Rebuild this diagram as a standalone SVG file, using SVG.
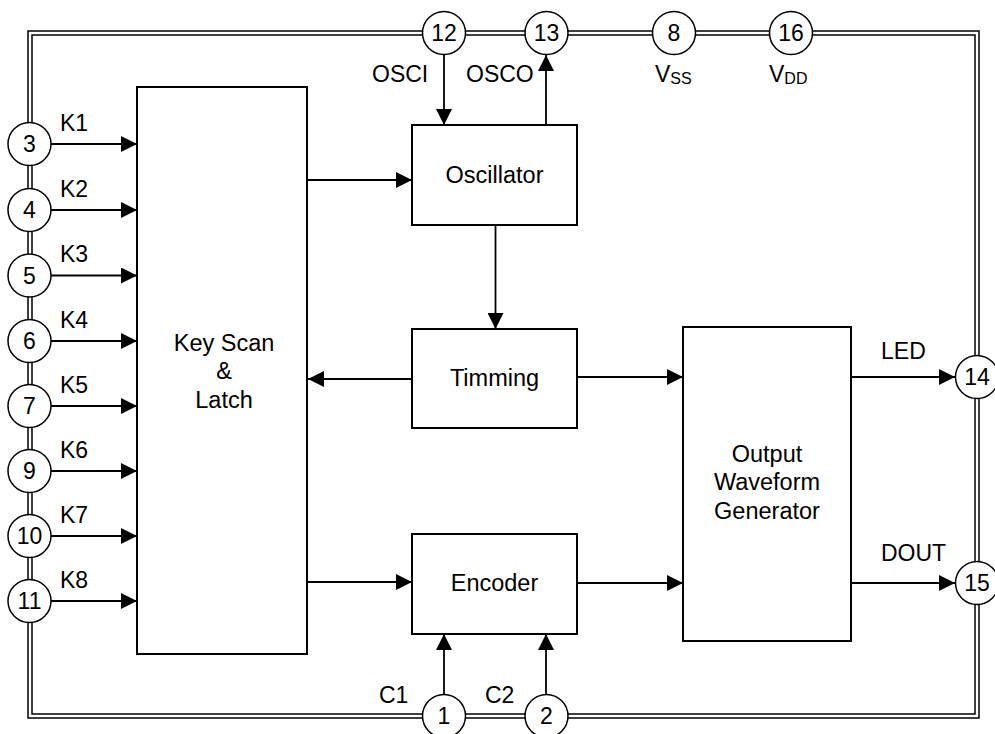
<svg xmlns="http://www.w3.org/2000/svg" width="995" height="734" viewBox="0 0 995 734">
<style>
.b{fill:#fff;stroke:#000;stroke-width:2}
.pin{fill:#fff;stroke:#000;stroke-width:1.5}
.w{fill:none;stroke:#000;stroke-width:1.8}
.bd{fill:none;stroke:#000;stroke-width:1.5}
text{font-family:"Liberation Sans",Arial,sans-serif;font-size:23px;fill:#000}
.c{text-anchor:middle}
.t{font-size:23.5px}
.s{font-size:16px}
</style>
<defs>
<marker id="a" markerUnits="userSpaceOnUse" markerWidth="17" markerHeight="16" refX="16" refY="8" orient="auto">
<path d="M0,0 L16,8 L0,16 z" fill="#000"/>
</marker>
</defs>
<g id="border">
<rect class="bd" x="28" y="31" width="951" height="687"/>
<rect class="bd" x="32" y="35" width="943" height="679"/>
</g>
<g id="connectors">
<path class="w" marker-end="url(#a)" d="M51,144H137"/>
<path class="w" marker-end="url(#a)" d="M51,210H137"/>
<path class="w" marker-end="url(#a)" d="M51,275.5H137"/>
<path class="w" marker-end="url(#a)" d="M51,341H137"/>
<path class="w" marker-end="url(#a)" d="M51,406H137"/>
<path class="w" marker-end="url(#a)" d="M51,471H137"/>
<path class="w" marker-end="url(#a)" d="M51,536H137"/>
<path class="w" marker-end="url(#a)" d="M51,601H137"/>
<path class="w" marker-end="url(#a)" d="M444,55V125"/>
<path class="w" marker-end="url(#a)" d="M546,125V55"/>
<path class="w" marker-end="url(#a)" d="M307,180H412"/>
<path class="w" marker-end="url(#a)" d="M495.5,225V329"/>
<path class="w" marker-end="url(#a)" d="M412,379H308"/>
<path class="w" marker-end="url(#a)" d="M577,377H683"/>
<path class="w" marker-end="url(#a)" d="M307,582H412"/>
<path class="w" marker-end="url(#a)" d="M577,583H683"/>
<path class="w" marker-end="url(#a)" d="M851,377H955"/>
<path class="w" marker-end="url(#a)" d="M851,583H955"/>
<path class="w" marker-end="url(#a)" d="M444,694V634"/>
<path class="w" marker-end="url(#a)" d="M546,694V634"/>
</g>
<g id="keyscan"><rect class="b" x="137" y="87" width="170" height="567"/>
<text class="c t" x="224" y="351">Key Scan</text><text class="c t" x="224" y="379">&amp;</text><text class="c t" x="224" y="408">Latch</text></g>
<g id="oscillator"><rect class="b" x="412" y="125" width="165" height="100"/><text class="c t" x="494.5" y="183">Oscillator</text></g>
<g id="timming"><rect class="b" x="412" y="329" width="165" height="99"/><text class="c t" x="494.5" y="386">Timming</text></g>
<g id="encoder"><rect class="b" x="412" y="534" width="165" height="100"/><text class="c t" x="494.5" y="591">Encoder</text></g>
<g id="owg"><rect class="b" x="683" y="327" width="168" height="314"/>
<text class="c t" x="767" y="462">Output</text><text class="c t" x="767" y="490">Waveform</text><text class="c t" x="767" y="519">Generator</text></g>
<g id="pin3"><circle class="pin" cx="29.5" cy="144" r="21.5"/><text class="c" x="29.5" y="152">3</text></g>
<g id="pin4"><circle class="pin" cx="29.5" cy="210" r="21.5"/><text class="c" x="29.5" y="218">4</text></g>
<g id="pin5"><circle class="pin" cx="29.5" cy="275.5" r="21.5"/><text class="c" x="29.5" y="283.5">5</text></g>
<g id="pin6"><circle class="pin" cx="29.5" cy="341" r="21.5"/><text class="c" x="29.5" y="349">6</text></g>
<g id="pin7"><circle class="pin" cx="29.5" cy="406" r="21.5"/><text class="c" x="29.5" y="414">7</text></g>
<g id="pin9"><circle class="pin" cx="29.5" cy="471" r="21.5"/><text class="c" x="29.5" y="479">9</text></g>
<g id="pin10"><circle class="pin" cx="29.5" cy="536" r="21.5"/><text class="c" x="29.5" y="544">10</text></g>
<g id="pin11"><circle class="pin" cx="29.5" cy="601" r="21.5"/><text class="c" x="29.5" y="609">11</text></g>
<g id="pin12"><circle class="pin" cx="444" cy="33" r="21.5"/><text class="c" x="444" y="41">12</text></g>
<g id="pin13"><circle class="pin" cx="546.5" cy="33" r="21.5"/><text class="c" x="546.5" y="41">13</text></g>
<g id="pin8"><circle class="pin" cx="674" cy="33" r="21.5"/><text class="c" x="674" y="41">8</text></g>
<g id="pin16"><circle class="pin" cx="791" cy="33" r="21.5"/><text class="c" x="791" y="41">16</text></g>
<g id="pin14"><circle class="pin" cx="977" cy="377" r="21.5"/><text class="c" x="977" y="385">14</text></g>
<g id="pin15"><circle class="pin" cx="977" cy="583" r="21.5"/><text class="c" x="977" y="591">15</text></g>
<g id="pin1"><circle class="pin" cx="444" cy="716" r="21.5"/><text class="c" x="444" y="724">1</text></g>
<g id="pin2"><circle class="pin" cx="546.5" cy="716" r="21.5"/><text class="c" x="546.5" y="724">2</text></g>
<g id="labels">
<text x="60" y="131">K1</text>
<text x="60" y="197">K2</text>
<text x="60" y="262">K3</text>
<text x="60" y="328">K4</text>
<text x="60" y="393">K5</text>
<text x="60" y="458">K6</text>
<text x="60" y="523">K7</text>
<text x="60" y="588">K8</text>
<text x="372" y="82">OSCI</text>
<text x="466" y="82">OSCO</text>
<text x="655" y="82">V<tspan class="s" dy="2">SS</tspan></text>
<text x="769" y="82">V<tspan class="s" dy="2">DD</tspan></text>
<text x="881" y="359">LED</text>
<text x="881" y="561">DOUT</text>
<text x="379" y="703">C1</text>
<text x="485" y="703">C2</text>
</g>
</svg>
